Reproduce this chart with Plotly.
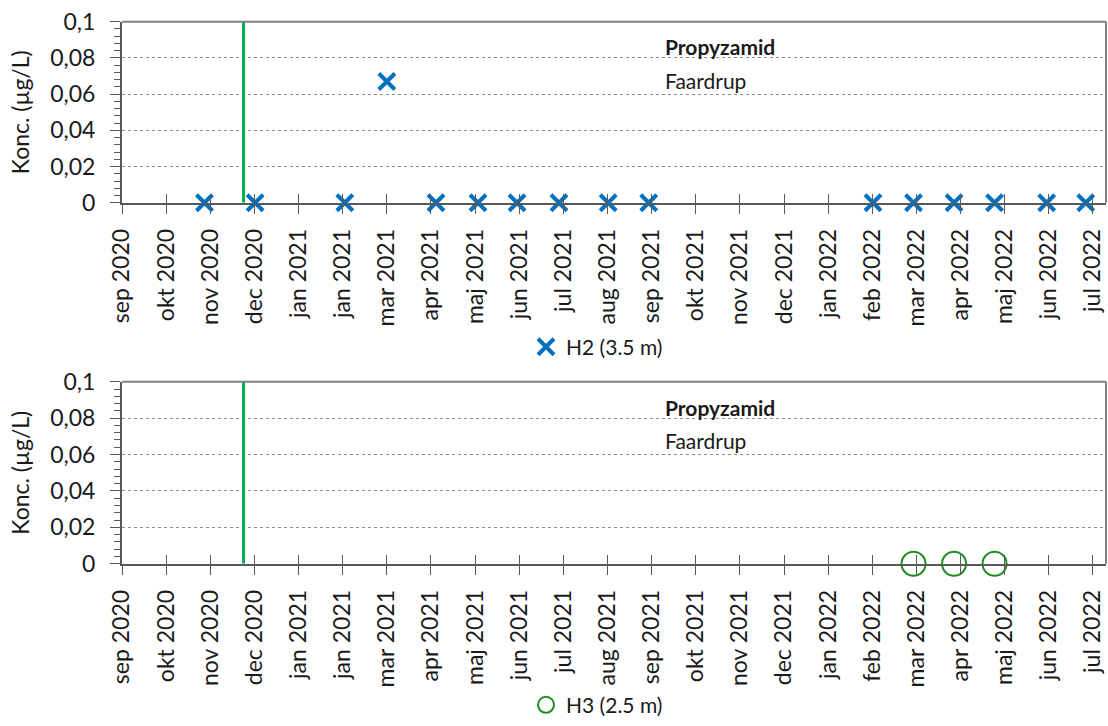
import pandas as pd
import plotly.graph_objects as go

# Sampling dates and concentrations (µg/L)
h2_dates = ["2020-10-28", "2020-12-02", "2021-02-02", "2021-03-03", "2021-04-06",
            "2021-05-05", "2021-06-01", "2021-06-30", "2021-08-03", "2021-08-31",
            "2022-02-02", "2022-03-02", "2022-03-30", "2022-04-27", "2022-06-02",
            "2022-06-29"]
h2_values = [0, 0, 0, 0.067, 0, 0, 0, 0, 0, 0, 0, 0, 0, 0, 0, 0]

h3_dates = ["2022-03-02", "2022-03-30", "2022-04-27"]
h3_values = [0, 0, 0]

# Application date of propyzamid
spray_date = "2020-11-24"

tick_labels = ["sep 2020", "okt 2020", "nov 2020", "dec 2020", "jan 2021", "jan 2021",
               "mar 2021", "apr 2021", "maj 2021", "jun 2021", "jul 2021", "aug 2021",
               "sep 2021", "okt 2021", "nov 2021", "dec 2021", "jan 2022", "feb 2022",
               "mar 2022", "apr 2022", "maj 2022", "jun 2022", "jul 2022"]
y_ticks = [0, 0.02, 0.04, 0.06, 0.08, 0.1]

axis_start = pd.Timestamp("2020-09-01")
axis_end = pd.Timestamp("2022-07-13")
tick_step_days = 30.5
tick_vals = [axis_start + pd.Timedelta(days=tick_step_days * k) for k in range(len(tick_labels))]

FONT = "Lato"
TXT = "#1a1a1a"
BLUE = "#0070C0"
GREEN_SPRAY = "#00B050"
GREEN_H3 = "#1E8C1E"

W, H = 1108, 726
px_x = lambda p: p / W
px_y = lambda p: 1 - p / H

x_dom = [px_x(122), px_x(1106)]
top_dom = [px_y(205), px_y(22)]
bot_dom = [px_y(570), px_y(386)]

fig = go.Figure()

# Top panel: H2
fig.add_trace(go.Scatter(x=[spray_date, spray_date], y=[0, 0.1], mode="lines",
                         line=dict(color=GREEN_SPRAY, width=3), showlegend=False,
                         hoverinfo="skip", xaxis="x", yaxis="y"))
fig.add_trace(go.Scatter(x=h2_dates, y=h2_values, mode="markers", name="H2 (3.5 m)",
                         marker=dict(symbol="x-thin", size=16, color=BLUE,
                                     line=dict(color=BLUE, width=4)),
                         cliponaxis=False, xaxis="x", yaxis="y", legend="legend"))

# Bottom panel: H3
fig.add_trace(go.Scatter(x=[spray_date, spray_date], y=[0, 0.1], mode="lines",
                         line=dict(color=GREEN_SPRAY, width=3), showlegend=False,
                         hoverinfo="skip", xaxis="x2", yaxis="y2"))
fig.add_trace(go.Scatter(x=h3_dates, y=h3_values, mode="markers", name="H3 (2.5 m)",
                         marker=dict(symbol="circle-open", size=24, color=GREEN_H3,
                                     line=dict(color=GREEN_H3, width=2)),
                         cliponaxis=False, xaxis="x2", yaxis="y2", legend="legend2"))

# Empty traces so the overlay axes (inner tick halves) are drawn
fig.add_trace(go.Scatter(x=[], y=[], xaxis="x3", yaxis="y", showlegend=False))
fig.add_trace(go.Scatter(x=[], y=[], xaxis="x4", yaxis="y2", showlegend=False))

rng = [axis_start, axis_end]
tickfont = dict(family=FONT, size=23, color=TXT)


def xaxis_main(anchor):
    return dict(domain=x_dom, anchor=anchor, type="date", range=rng,
                tickmode="array", tickvals=tick_vals, ticktext=tick_labels,
                tickangle=-90, ticks="outside", ticklen=9, tickwidth=1,
                tickcolor="#595959", tickfont=tickfont, ticklabelstandoff=6,
                showgrid=False, showline=True, linecolor="#595959", linewidth=2,
                zeroline=False, automargin=False, fixedrange=True)


def xaxis_inner(overlay, anchor):
    return dict(overlaying=overlay, anchor=anchor, domain=x_dom, type="date",
                range=rng, tickmode="array", tickvals=tick_vals, ticks="inside",
                ticklen=9, tickwidth=1, tickcolor="#595959", showticklabels=False,
                showgrid=False, showline=False, zeroline=False, automargin=False)


def yaxis(dom, anchor):
    return dict(domain=dom, anchor=anchor, range=[0, 0.1], tickmode="array",
                tickvals=y_ticks, ticks="outside", ticklen=10, tickwidth=1,
                tickcolor="#595959", tickfont=tickfont, ticklabelstandoff=10,
                minor=dict(dtick=0.004, ticks="outside", ticklen=6, tickwidth=1,
                           tickcolor="#595959", showgrid=False),
                showgrid=True, gridcolor="#8c8c8c", gridwidth=1, griddash="dot",
                showline=True, linecolor="#595959", linewidth=2, zeroline=False,
                title=dict(text="Konc. (µg/L)", font=dict(family=FONT, size=23, color=TXT),
                           standoff=14),
                automargin=False, fixedrange=True)


annotations = []
for y_name, y_sub in ((47, 81), (412, 445)):
    annotations.append(dict(text="<b>Propyzamid</b>", x=px_x(663), y=px_y(y_name),
                            xref="paper", yref="paper", xanchor="left", yanchor="middle",
                            showarrow=False, font=dict(family=FONT, size=21, color=TXT)))
    annotations.append(dict(text="Faardrup", x=px_x(663), y=px_y(y_sub),
                            xref="paper", yref="paper", xanchor="left", yanchor="middle",
                            showarrow=False, font=dict(family=FONT, size=21, color=TXT)))

# Grey frame along the top and right of each plot area
shapes = []
for xr, yr in (("x domain", "y domain"), ("x2 domain", "y2 domain")):
    shapes.append(dict(type="line", xref=xr, yref=yr, x0=0, x1=1, y0=1, y1=1,
                       line=dict(color="#808080", width=2)))
    shapes.append(dict(type="line", xref=xr, yref=yr, x0=1, x1=1, y0=0, y1=1,
                       line=dict(color="#808080", width=2)))

legend_common = dict(orientation="h", xanchor="center", yanchor="middle",
                     font=dict(family=FONT, size=21, color=TXT),
                     bgcolor="rgba(0,0,0,0)", itemwidth=30)

fig.update_layout(
    width=W, height=H,
    margin=dict(l=0, r=0, t=0, b=0),
    paper_bgcolor="white", plot_bgcolor="white",
    separators=",.",
    xaxis=xaxis_main("y"),
    yaxis=yaxis(top_dom, "x"),
    xaxis2=xaxis_main("y2"),
    yaxis2=yaxis(bot_dom, "x2"),
    xaxis3=xaxis_inner("x", "y"),
    xaxis4=xaxis_inner("x2", "y2"),
    legend=dict(x=px_x(597), y=px_y(351), **legend_common),
    legend2=dict(x=px_x(597), y=px_y(713), **legend_common),
    annotations=annotations,
    shapes=shapes,
    showlegend=True,
)

fig.write_html("out.html")
